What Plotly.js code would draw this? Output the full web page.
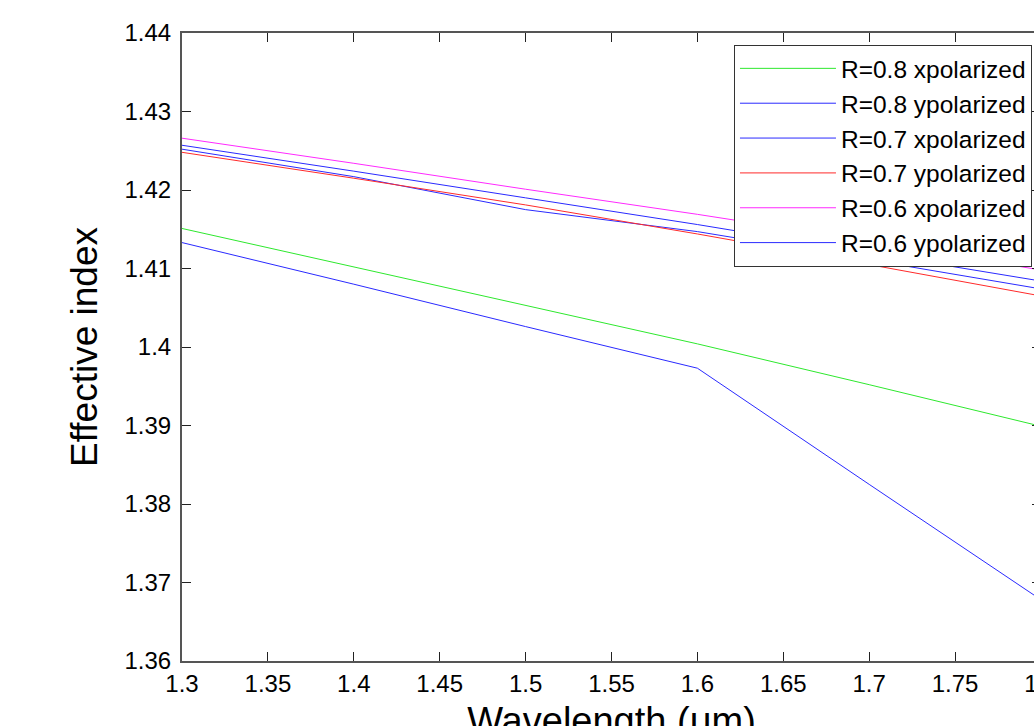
<!DOCTYPE html>
<html>
<head>
<meta charset="utf-8">
<script src="https://cdn.plot.ly/plotly-3.0.1.min.js"></script>
<style>
html,body{margin:0;padding:0;overflow:hidden;background:#fff;}
#chart{width:1080px;height:760px;}
</style>
</head>
<body>
<div id="chart"></div>
<script>
// Wavelength (um)
const wavelength = [1.3, 1.4, 1.5, 1.6, 1.7, 1.8];

// Effective index per series
const r08x = [1.4151, 1.4102, 1.4053, 1.4004, 1.3952, 1.3899];
const r08y = [1.4133, 1.4080, 1.4026, 1.3973, 1.3825, 1.3678];
const r07x = [1.4252, 1.4217, 1.4175, 1.4147, 1.4111, 1.4074];
const r07y = [1.4248, 1.4215, 1.4181, 1.4144, 1.4105, 1.4065];
const r06x = [1.4266, 1.4234, 1.4201, 1.4169, 1.4135, 1.4098];
const r06y = [1.4257, 1.4224, 1.4190, 1.4156, 1.4120, 1.4084];

const seriesNames = ['R=0.8 xpolarized','R=0.8 ypolarized','R=0.7 xpolarized','R=0.7 ypolarized','R=0.6 xpolarized','R=0.6 ypolarized'];
const seriesValues = [r08x, r08y, r07x, r07y, r06x, r06y];
const seriesColors = ['#2ee82e','#2a2aff','#2a2aff','#ff2a2a','#ff2aff','#2a2aff'];

const xTickVals = [1.3,1.35,1.4,1.45,1.5,1.55,1.6,1.65,1.7,1.75,1.8];
const xTickText = ['1.3','1.35','1.4','1.45','1.5','1.55','1.6','1.65','1.7','1.75','1.8'];
const yTickVals = [1.36,1.37,1.38,1.39,1.40,1.41,1.42,1.43,1.44];
const yTickText = ['1.36','1.37','1.38','1.39','1.4','1.41','1.42','1.43','1.44'];

const traces = seriesNames.map((n,i)=>({
  type:'scatter', mode:'lines', name:n,
  x: wavelength, y: seriesValues[i],
  line:{color:seriesColors[i], width:1}
}));

const FONT = 'Liberation Sans, Arial, Helvetica, sans-serif';

const layout = {
  width:1080, height:760,
  margin:{l:182, r:39, t:33, b:99},
  paper_bgcolor:'#fff', plot_bgcolor:'#fff',
  font:{family:FONT, color:'#000', size:24},
  showlegend:true,
  legend:{
    x:0.9895, xanchor:'right', y:0.981, yanchor:'top',
    bgcolor:'#fff', bordercolor:'#333', borderwidth:1,
    font:{family:FONT, size:24.5, color:'#000'},
    itemwidth:96
  },
  xaxis:{
    range:[1.3,1.8], tickvals:xTickVals, ticktext:xTickText,
    ticks:'inside', ticklen:9, tickcolor:'#222', tickwidth:1,
    showline:true, linecolor:'#555', linewidth:2, mirror:'ticks',
    showgrid:false, zeroline:false,
    tickfont:{family:FONT, size:24, color:'#000'},
    title:{text:'Wavelength (μm)', font:{family:FONT, size:38, color:'#000'}, standoff:12}
  },
  yaxis:{
    range:[1.36,1.44], tickvals:yTickVals, ticktext:yTickText,
    ticks:'inside', ticklen:9, tickcolor:'#222', tickwidth:1,
    showline:true, linecolor:'#555', linewidth:2, mirror:'ticks',
    showgrid:false, zeroline:false, ticklabelstandoff:4,
    tickfont:{family:FONT, size:24, color:'#000'},
    title:{text:'Effective index', font:{family:FONT, size:37, color:'#000'}, standoff:16}
  }
};

Plotly.newPlot('chart', traces, layout, {displayModeBar:false, staticPlot:true});
</script>
</body>
</html>
